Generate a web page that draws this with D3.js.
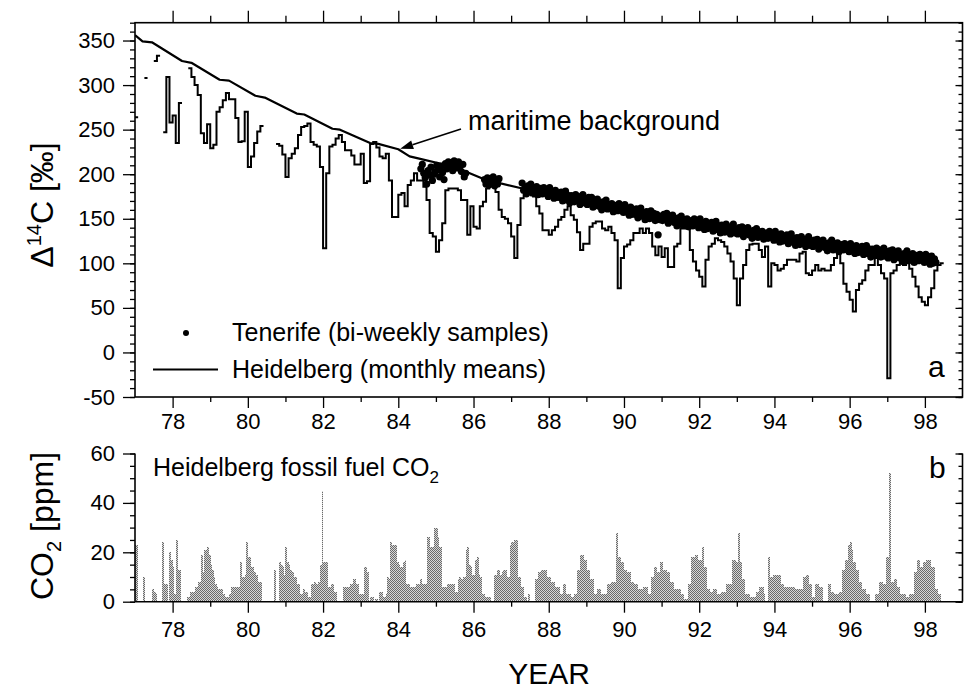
<!DOCTYPE html>
<html>
<head>
<meta charset="utf-8">
<script src="https://cdn.jsdelivr.net/npm/d3@7"></script>
<style>
  body { margin: 0; background: #fff; }
  text { font-family: "Liberation Sans", Arial, sans-serif; fill: #000; }
</style>
</head>
<body>
<script>
// ---- data ----
var startYear = 77;

// Heidelberg monthly means of delta14C (per mil), Jan 1977 .. Jun 1998, null = no data
var heidelberg = [
  264, null, null, 308, null, null, 327, 333, null, 247, 309, 258,
  266, 235, 280, null, null, 319, 309, 300, 289, 246, 235, 256,
  229, 233, 270, 275, 283, 291, 284, 284, 263, 236, 237, 270,
  208, 220, 235, 248, 254, null, null, null, null, 234, 232, 222,
  197, 218, 223, 229, 244, 253, 254, 257, 236, 233, 231, 208,
  117, 201, 231, 233, 240, 244, 236, 227, 227, 221, 211, 211,
  223, 190, 192, 234, 236, 230, 220, 218, 223, 193, 152, 152,
  177, 179, 164, 188, 193, 201, 193, 193, 186, 171, 134, 130,
  113, 126, 145, 182, 184, 184, 184, 182, 171, 171, 132, 164,
  141, 139, 164, 169, 184, 190, 190, 180, 160, 152, 150, 145,
  130, 106, 143, 173, 177, 180, 180, 175, 164, 156, 137, 137,
  132, 137, 141, 149, 152, 160, 164, 154, 149, 135, 115, 122,
  122, 141, 145, 147, 147, 139, 137, 141, 134, 126, 72, 106,
  119, 121, 126, 134, 134, 139, 134, 139, 134, 119, 109, 119,
  107, 117, 96, 96, 119, 122, 139, 139, 139, 115, 102, 92,
  85, 74, 104, 119, 122, 128, 126, 124, 119, 111, 102, 83,
  53, 83, 98, 115, 121, 122, 122, 115, 107, 119, 74, 100,
  98, 92, 94, 98, 104, 104, 104, 102, 111, 113, 89, 87,
  92, 98, 92, 94, 92, 92, 98, 106, 113, 100, 77, 68,
  59, 46, 70, 77, 81, 92, 98, 98, 106, 98, 89, 83,
  -29, 89, 92, 98, 100, 98, 104, 94, 85, 74, 62, 57,
  53, 62, 72, 92, 98, 100
];

// maritime background curve
var bgYears = [77.0, 77.2, 77.45, 78.25, 78.5, 79.25, 79.5, 80.2, 80.45, 81.3, 81.5, 82.25, 82.45,
  83.25, 83.47, 84.0, 84.3, 84.5, 85.3, 85.5, 86.3, 86.5, 87.3, 87.5, 88.3, 88.5, 89.3, 89.5,
  90.3, 90.5, 91.3, 91.5, 92.3, 92.5, 93.3, 93.5, 94.3, 94.5, 95.3, 95.5, 96.3, 96.5, 97.3, 97.5, 98.3];
var bgValues = [356, 349, 348, 327, 325, 306, 305, 288, 286, 268, 267, 251, 250,
  235, 234, 228, 220, 218, 210, 208, 194, 192, 184, 182, 174, 172, 163, 161,
  155, 153, 148, 146, 140, 139, 134, 133, 127, 126, 121, 120, 115, 114, 109, 108, 103];

// Tenerife bi-weekly samples from 1984.6, null = no sample
var tenerifeStart = 84.6;
var tenerife = [
  206, 211, 201, 196, 189, 204, 199, 208, 193, 200,
  203, 210, 205, 197, 209, 202, 194, 212, 206, 214, 208, 213, 204, 215,
  210, 207, 214, 209, 203, 211, 197, 201,
  null, null, null, null, null, null, null, null, null, null, null, null,
  194, 189, 196, 188, 193, 190, 197, 187, 192, 189, 195,
  null, null, null, null, null, null, null, null, null, null, null, null, null, null, null,
  190, 182, 185, 178, 187, 182, 189, 179, 184, 180, 186, 177, 181, 184, 178, 185, 179, 182, 175, 185, 177, 179, 173, 182, 174, 179,
  174, 180, 170, 176, 181, 171, 176, 168, 176, 173, 169, 177, 171, 175, 166, 173, 177, 168, 171, 166, 174, 167, 174, 163, 169, 171,
  172, 164, 167, 160, 169, 164, 171, 161, 166, 162, 167, 158, 163, 165, 159, 167, 160, 163, 157, 166, 158, 160, 154, 163, 155, 160,
  155, 161, 151, 157, 162, 153, 157, 149, 158, 155, 150, 159, 153, 156, 148, 155, 132, 149, 153, 148, 155, 149, 156, 145, 151, 153,
  154, 146, 149, 142, 151, 147, 153, 143, 149, 145, 150, 141, 146, 148, 142, 150, 144, 146, 140, 150, 141, 144, 138, 147, 139, 144,
  140, 146, 136, 142, 147, 138, 142, 134, 143, 140, 135, 144, 138, 141, 133, 140, 144, 134, 138, 133, 140, 134, 141, 130, 136, 138,
  140, 132, 135, 128, 137, 133, 139, 129, 135, 131, 136, 127, 132, 134, 128, 136, 130, 132, 126, 136, 127, 130, 124, 133, 125, 130,
  126, 132, 122, 128, 133, 124, 128, 120, 129, 126, 121, 130, 124, 127, 119, 126, 130, 120, 124, 119, 126, 120, 127, 116, 122, 124,
  126, 118, 122, 114, 123, 119, 126, 115, 121, 117, 123, 113, 118, 121, 115, 122, 116, 119, 113, 122, 114, 117, 111, 120, 112, 117,
  113, 119, 110, 115, 120, 111, 116, 107, 116, 113, 109, 117, 111, 115, 107, 113, 117, 108, 112, 106, 114, 108, 115, 104, 110, 112,
  114, 106, 110, 102, 111, 107, 114, 103, 109, 105, 111, 101, 106, 109, 103, 110, 104, 107, 101, 110, 102, 105, 99, 108, 100, 105,
  101
];

// Heidelberg fossil fuel CO2 (ppm), half-monthly from Jan 1977
var co2 = [
  23, 23, 0, 0, 0, 10, 0, 0, 0, 0, 0, 5, 4, 3, 0, 0, 0, 24, 7, 7, 7, 0, 20, 17,
  14, 3, 25, 13, 13, 0, 0, 0, 0, 2, 2, 4, 4, 4, 6, 6, 8, 8, 19, 12, 21, 21, 22, 19,
  15, 13, 10, 7, 6, 5, 5, 5, 3, 2, 2, 2, 3, 6, 6, 6, 6, 6, 6, 16, 10, 10, 11, 24,
  18, 18, 14, 14, 12, 11, 8, 8, 8, 0, 0, 0, 0, 0, 0, 0, 0, 13, 0, 0, 16, 15, 14, 11,
  22, 16, 15, 13, 12, 10, 10, 7, 7, 3, 3, 5, 4, 4, 2, 2, 7, 7, 8, 7, 7, 8, 15, 45,
  16, 16, 16, 6, 6, 7, 7, 4, 4, 0, 0, 0, 0, 6, 6, 6, 6, 7, 7, 9, 9, 7, 7, 3,
  3, 3, 14, 14, 12, 0, 2, 2, 0, 1, 1, 0, 4, 4, 2, 2, 3, 10, 9, 24, 23, 23, 23, 16,
  15, 14, 14, 16, 17, 7, 7, 6, 6, 6, 6, 7, 7, 7, 9, 7, 7, 7, 26, 26, 22, 22, 22, 30,
  30, 26, 22, 22, 6, 6, 6, 7, 7, 7, 7, 7, 4, 4, 9, 10, 9, 10, 10, 21, 22, 15, 14, 11,
  11, 17, 18, 11, 10, 3, 3, 2, 2, 2, 2, 0, 0, 11, 11, 13, 13, 11, 12, 13, 13, 10, 10, 23,
  24, 24, 25, 25, 10, 10, 6, 6, 2, 2, 0, 3, 0, 0, 0, 9, 9, 12, 12, 13, 13, 13, 13, 10,
  10, 8, 8, 8, 6, 6, 6, 3, 3, 7, 7, 3, 3, 3, 2, 2, 3, 3, 13, 13, 19, 19, 17, 17,
  13, 13, 9, 9, 9, 3, 3, 5, 5, 3, 3, 3, 3, 7, 7, 7, 8, 8, 8, 28, 18, 18, 16, 16,
  13, 13, 12, 12, 8, 8, 7, 7, 7, 5, 5, 5, 6, 6, 6, 3, 3, 10, 10, 14, 14, 12, 12, 16,
  16, 13, 13, 12, 12, 8, 8, 8, 5, 5, 5, 5, 3, 3, 1, 1, 1, 7, 7, 18, 18, 19, 19, 17,
  17, 17, 22, 14, 14, 5, 5, 4, 4, 5, 5, 3, 3, 3, 4, 4, 4, 7, 7, 7, 7, 17, 17, 16,
  16, 28, 16, 9, 9, 3, 3, 3, 2, 2, 2, 2, 4, 4, 6, 6, 6, 3, 0, 0, 18, 10, 10, 11,
  11, 11, 11, 11, 7, 7, 6, 6, 6, 6, 6, 6, 6, 5, 5, 5, 5, 5, 10, 10, 11, 11, 7, 7,
  2, 2, 7, 7, 6, 6, 6, 0, 0, 0, 7, 7, 4, 4, 3, 3, 3, 4, 4, 13, 13, 17, 17, 23,
  24, 21, 16, 16, 13, 13, 8, 8, 5, 5, 3, 3, 3, 0, 0, 0, 3, 3, 3, 8, 8, 7, 7, 18,
  18, 52, 8, 8, 9, 9, 6, 6, 3, 3, 3, 3, 2, 2, 3, 3, 3, 12, 12, 17, 17, 14, 14, 16,
  16, 17, 17, 17, 14, 14, 5, 5, 3, 3, 0, 0
];

var xTicks = [78, 80, 82, 84, 86, 88, 90, 92, 94, 96, 98];
var xMinor = [79, 81, 83, 85, 87, 89, 91, 93, 95, 97];
var yTicksA = [-50, 0, 50, 100, 150, 200, 250, 300, 350];
var yTicksB = [0, 20, 40, 60];

// ---- layout ----
var width = 966, height = 692;
var left = 135, right = 962.5;
var aTop = 22.7, aBottom = 397;
var bTop = 453.5, bBottom = 601.7;

var svg = d3.select("body").append("svg")
  .attr("width", width)
  .attr("height", height);

var defs = svg.append("defs");
var pat = defs.append("pattern")
  .attr("id", "stipple")
  .attr("width", 2).attr("height", 2)
  .attr("patternUnits", "userSpaceOnUse");
pat.append("rect").attr("width", 2).attr("height", 2).attr("fill", "#d8d8d8");
pat.append("rect").attr("width", 1).attr("height", 1).attr("fill", "#6a6a6a");
pat.append("rect").attr("x", 1).attr("y", 1).attr("width", 1).attr("height", 1).attr("fill", "#6a6a6a");

var x = d3.scaleLinear().domain([77, 99]).range([left, right]);
var ya = d3.scaleLinear().domain([-50, 370]).range([aBottom, aTop]);
var yb = d3.scaleLinear().domain([0, 60]).range([bBottom, bTop]);

function plain(d) { return String(d); }   // keep "-50" with a hyphen like the original

function styleAxis(g, fontSize) {
  g.select(".domain").remove();
  g.selectAll(".tick line").attr("stroke", "#000").attr("stroke-width", 1.3);
  g.selectAll(".tick text")
    .attr("font-family", "'Liberation Sans', Arial, sans-serif")
    .attr("font-size", fontSize)
    .attr("fill", "#000");
  g.attr("font-family", null).attr("font-size", null);
}

function addAxis(gen, tx, ty) {
  var g = svg.append("g")
    .attr("transform", "translate(" + tx + "," + ty + ")")
    .call(gen);
  styleAxis(g, "22px");
  return g;
}

function range(a, b, step) { return d3.range(a, b + step / 2, step); }

// ======== panel b: fossil fuel CO2 bars ========
var co2Data = co2.map(function (v, i) { return { t: startYear + i / 24, v: v }; })
  .filter(function (d) { return d.v > 0; });

svg.append("g")
  .attr("shape-rendering", "crispEdges")
  .selectAll("rect")
  .data(co2Data)
  .enter()
  .append("rect")
  .attr("x", function (d) { return x(d.t); })
  .attr("width", function (d) { return x(d.t + 1 / 24) - x(d.t) + 0.3; })
  .attr("y", function (d) { return yb(d.v); })
  .attr("height", function (d) { return yb(0) - yb(d.v); })
  .attr("fill", "url(#stipple)");

// ======== panel a: delta14C ========
var clip = defs.append("clipPath").attr("id", "clipA");
clip.append("rect").attr("x", left).attr("y", aTop).attr("width", right - left).attr("height", aBottom - aTop);

var plotA = svg.append("g").attr("clip-path", "url(#clipA)");

// background curve
var bgData = bgYears.map(function (t, i) { return { t: t, v: bgValues[i] }; });
plotA.append("path")
  .datum(bgData)
  .attr("fill", "none")
  .attr("stroke", "#000")
  .attr("stroke-width", 2.2)
  .attr("stroke-linejoin", "round")
  .attr("d", d3.line().x(function (d) { return x(d.t); }).y(function (d) { return ya(d.v); }));

// Heidelberg monthly steps
var stepPts = [];
heidelberg.forEach(function (v, i) {
  stepPts.push({ t: startYear + i / 12, v: v });
  stepPts.push({ t: startYear + (i + 1) / 12, v: v });
});
plotA.append("path")
  .datum(stepPts)
  .attr("fill", "none")
  .attr("stroke", "#000")
  .attr("stroke-width", 2)
  .attr("d", d3.line()
    .defined(function (d) { return d.v !== null; })
    .x(function (d) { return x(d.t); })
    .y(function (d) { return ya(d.v); }));

// Tenerife samples
var tenData = tenerife.map(function (v, i) { return { t: tenerifeStart + i / 26, v: v }; })
  .filter(function (d) { return d.v !== null; });
plotA.append("g").selectAll("circle")
  .data(tenData)
  .enter()
  .append("circle")
  .attr("cx", function (d) { return x(d.t); })
  .attr("cy", function (d) { return ya(d.v); })
  .attr("r", 3.6)
  .attr("fill", "#000");

// frame
svg.append("rect")
  .attr("x", left).attr("y", aTop)
  .attr("width", right - left).attr("height", aBottom - aTop)
  .attr("fill", "none").attr("stroke", "#000").attr("stroke-width", 1.6);

// axes panel a
addAxis(d3.axisBottom(x).tickValues(xTicks).tickSize(11).tickPadding(5).tickSizeOuter(0), 0, aBottom);
addAxis(d3.axisBottom(x).tickValues(xMinor).tickSize(5).tickFormat("").tickSizeOuter(0), 0, aBottom);
addAxis(d3.axisTop(x).tickValues(xTicks).tickSize(12).tickFormat("").tickSizeOuter(0), 0, aTop);
addAxis(d3.axisTop(x).tickValues(xMinor).tickSize(7).tickFormat("").tickSizeOuter(0), 0, aTop);
addAxis(d3.axisLeft(ya).tickValues(yTicksA).tickSize(12).tickPadding(8).tickFormat(plain).tickSizeOuter(0), left, 0);
addAxis(d3.axisLeft(ya).tickValues(range(-50, 370, 10)).tickSize(5).tickFormat("").tickSizeOuter(0), left, 0);
addAxis(d3.axisRight(ya).tickValues(yTicksA).tickSize(-7).tickFormat("").tickSizeOuter(0), right, 0);
addAxis(d3.axisRight(ya).tickValues(range(-50, 370, 10)).tickSize(-4).tickFormat("").tickSizeOuter(0), right, 0);

// axes panel b
svg.append("line").attr("x1", left).attr("x2", left).attr("y1", bTop).attr("y2", bBottom)
  .attr("stroke", "#000").attr("stroke-width", 1.6);
svg.append("line").attr("x1", left).attr("x2", right).attr("y1", bBottom).attr("y2", bBottom)
  .attr("stroke", "#000").attr("stroke-width", 1.6);
svg.append("line").attr("x1", right).attr("x2", right).attr("y1", bTop).attr("y2", bBottom)
  .attr("stroke", "#000").attr("stroke-width", 1.6);

addAxis(d3.axisBottom(x).tickValues(xTicks).tickSize(11).tickPadding(9).tickSizeOuter(0), 0, bBottom);
addAxis(d3.axisBottom(x).tickValues(xMinor).tickSize(5).tickFormat("").tickSizeOuter(0), 0, bBottom);
addAxis(d3.axisLeft(yb).tickValues(yTicksB).tickSize(12).tickPadding(8).tickFormat(plain).tickSizeOuter(0), left, 0);
addAxis(d3.axisLeft(yb).tickValues(range(0, 60, 5)).tickSize(5).tickFormat("").tickSizeOuter(0), left, 0);
addAxis(d3.axisRight(yb).tickValues(yTicksB).tickSize(-7).tickFormat("").tickSizeOuter(0), right, 0);
addAxis(d3.axisRight(yb).tickValues(range(0, 60, 5)).tickSize(-4).tickFormat("").tickSizeOuter(0), right, 0);

// ---- labels ----
var t1 = svg.append("text")
  .attr("transform", "translate(53,205) rotate(-90)")
  .attr("text-anchor", "middle")
  .attr("font-size", "32px");
t1.append("tspan").text("\u0394");
t1.append("tspan").attr("font-size", "20px").attr("dy", "-12").text("14");
t1.append("tspan").attr("dy", "12").text("C [\u2030]");

var t2 = svg.append("text")
  .attr("transform", "translate(53,526) rotate(-90)")
  .attr("text-anchor", "middle")
  .attr("font-size", "32px");
t2.append("tspan").text("CO");
t2.append("tspan").attr("font-size", "20px").attr("dy", "8").text("2");
t2.append("tspan").attr("dy", "-8").text(" [ppm]");

svg.append("text")
  .attr("x", 549).attr("y", 684)
  .attr("text-anchor", "middle")
  .attr("font-size", "30px")
  .text("YEAR");

// legend
svg.append("circle").attr("cx", 186).attr("cy", 333).attr("r", 3).attr("fill", "#000");
svg.append("text").attr("x", 232).attr("y", 341).attr("font-size", "25px").text("Tenerife (bi-weekly samples)");
svg.append("line").attr("x1", 153).attr("x2", 218).attr("y1", 369.5).attr("y2", 369.5)
  .attr("stroke", "#000").attr("stroke-width", 2);
svg.append("text").attr("x", 232).attr("y", 378).attr("font-size", "25px").text("Heidelberg (monthly means)");

// panel letters
svg.append("text").attr("x", 928).attr("y", 377).attr("font-size", "30px").text("a");
svg.append("text").attr("x", 929).attr("y", 478).attr("font-size", "30px").text("b");

// panel b title
var t3 = svg.append("text").attr("x", 153).attr("y", 476).attr("font-size", "25px");
t3.append("tspan").text("Heidelberg fossil fuel CO");
t3.append("tspan").attr("font-size", "17px").attr("dy", "7").text("2");

// annotation
var tipT = 84.05, tipV = 228.5;
svg.append("text").attr("x", 468).attr("y", 130).attr("font-size", "27px").text("maritime background");
var ax0 = 461, ay0 = 129;
var ax1 = x(tipT), ay1 = ya(tipV);
var ang = Math.atan2(ay1 - ay0, ax1 - ax0);
var hl = 13, hw = 4.5;
var bx = ax1 - hl * Math.cos(ang), by = ay1 - hl * Math.sin(ang);
svg.append("line").attr("x1", ax0).attr("y1", ay0).attr("x2", bx).attr("y2", by)
  .attr("stroke", "#000").attr("stroke-width", 1.6);
svg.append("path")
  .attr("d", "M" + ax1 + "," + ay1 +
    "L" + (bx + hw * Math.sin(ang)) + "," + (by - hw * Math.cos(ang)) +
    "L" + (bx - hw * Math.sin(ang)) + "," + (by + hw * Math.cos(ang)) + "Z")
  .attr("fill", "#000");
</script>
</body>
</html>
